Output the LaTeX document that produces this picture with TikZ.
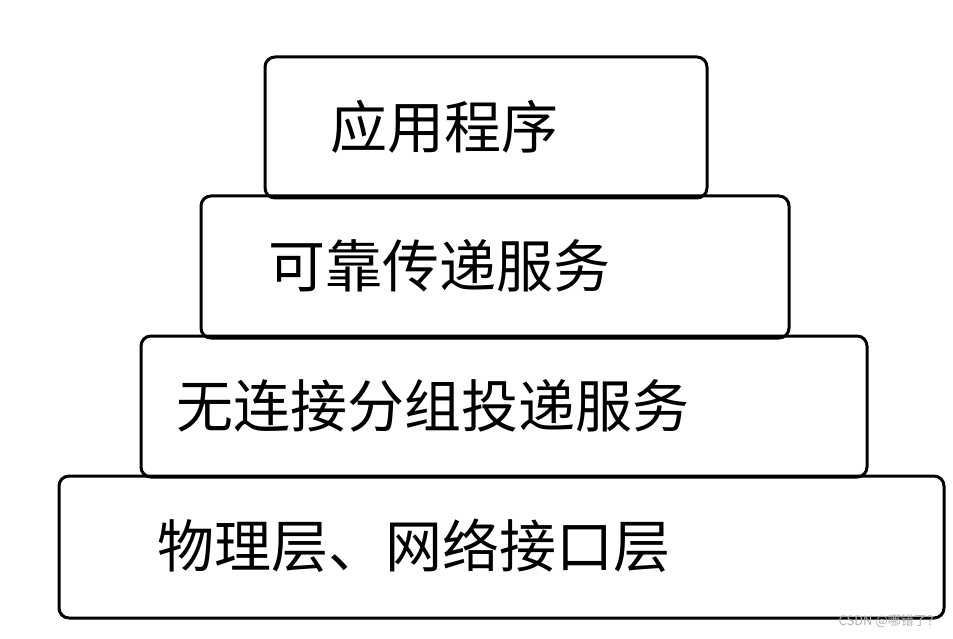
\documentclass[tikz,border=0pt]{standalone}
\usepackage{fontspec}
\newfontfamily\cjk{Noto Sans CJK SC}
\begin{document}
\begin{tikzpicture}[x=1pt,y=-1pt,
  layer/.style={draw=black,line width=3pt,rounded corners=10pt},
  lbl/.style={anchor=west,inner sep=0pt,font=\cjk\fontsize{57}{57}\selectfont}]
\useasboundingbox (0,0) rectangle (953,639);
\draw[layer] (265,57) rectangle (707,198);
\draw[layer] (201,196) rectangle (789,338);
\draw[layer] (141,336) rectangle (867,477);
\draw[layer] (59,476) rectangle (944,618);
\node[lbl] (t1) at (330,127) {应用程序};
\node[lbl] (t2) at (268,266) {可靠传递服务};
\node[lbl] (t3) at (176,406) {无连接分组投递服务};
\node[lbl] (t4) at (157,546) {物理层、网络接口层};
\node[anchor=east,inner sep=0pt,text=gray!60,font=\cjk\fontsize{13}{13}\selectfont] (wm) at (940,621) {CSDN @哪错了？};
\end{tikzpicture}
\end{document}
